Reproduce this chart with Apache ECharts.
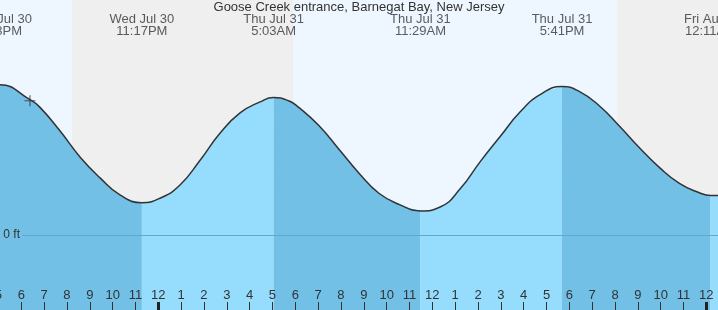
<!DOCTYPE html>
<html>
<head>
<meta charset="utf-8">
<script src="https://cdn.jsdelivr.net/npm/echarts@6/dist/echarts.min.js"></script>
<style>
  html, body { margin: 0; padding: 0; background: #fff; }
  #chart { width: 718px; height: 310px; }
</style>
</head>
<body>
<div id="chart"></div>
<script>
// hours counted from Wed Jul 30 00:00
var tideHours = [16.98, 17.05, 18.38, 18.82, 19.70, 20.57, 21.45, 22.32, 23.28, 24.07, 24.95, 25.83, 26.70, 27.58, 28.46, 29.05, 29.71, 30.15, 31.03, 31.91, 32.78, 33.66, 34.59, 35.48, 36.34, 37.22, 38.09, 38.97, 39.85, 40.72, 41.68, 42.43, 43.31, 44.19, 45.06, 45.94, 46.82, 47.69, 48.18, 48.51];
var tideFeet = [2.73, 2.73, 2.46, 2.32, 1.89, 1.42, 1.04, 0.73, 0.59, 0.67, 0.91, 1.36, 1.85, 2.22, 2.42, 2.50, 2.44, 2.32, 1.99, 1.56, 1.13, 0.76, 0.55, 0.44, 0.51, 0.84, 1.33, 1.79, 2.24, 2.55, 2.70, 2.61, 2.35, 1.98, 1.59, 1.23, 0.94, 0.77, 0.72, 0.72];

var extremeHours = [17.05, 23.28, 29.05, 35.48, 41.68, 48.18];
var extremeLabels = ['Wed Jul 30\n5:03PM', 'Wed Jul 30\n11:17PM', 'Thu Jul 31\n5:03AM', 'Thu Jul 31\n11:29AM', 'Thu Jul 31\n5:41PM', 'Fri Aug 1\n12:11AM'];

var nights = [[20.22, 29.90], [44.09, 48.51]];
var nowPoint = [18.38, 2.44];

var hourTicks = [];
for (var h = 17; h <= 48; h++) hourTicks.push(h);
var midnightTicks = [24, 48];

var xMin = 16.98, xMax = 48.51;
var font = 'Liberation Sans, Arial, sans-serif';

var tide = tideHours.map(function (t, i) { return [t, tideFeet[i]]; });

// split curve into falling / rising pieces between extremes
var bounds = [xMin].concat(extremeHours.slice(1)).concat([xMax]);
var fillSeries = [];
for (var s = 0; s < bounds.length - 1; s++) {
  var a = bounds[s], b = bounds[s + 1];
  fillSeries.push({
    type: 'line',
    data: tide.filter(function (p) { return p[0] >= a - 1e-6 && p[0] <= b + 1e-6; }),
    smooth: 0.5,
    showSymbol: false,
    silent: true,
    z: 2,
    lineStyle: { width: 0 },
    areaStyle: { color: s % 2 === 0 ? '#72c0e6' : '#96dcfc', opacity: 1, origin: 'start' }
  });
}

var chart = echarts.init(document.getElementById('chart'));
var option = {
  animation: false,
  title: {
    text: 'Goose Creek entrance, Barnegat Bay, New Jersey',
    left: 'center',
    top: 1,
    padding: 0,
    textStyle: { fontFamily: font, fontSize: 13, fontWeight: 'normal', color: '#333' }
  },
  grid: {
    left: -2, right: 0, top: 0, bottom: 0,
    containLabel: false, outerBoundsMode: 'none',
    show: true, backgroundColor: '#eef7ff', borderWidth: 0
  },
  xAxis: [
    {
      type: 'value', min: xMin, max: xMax, z: 10, position: 'bottom',
      axisLine: { show: false, onZero: false },
      splitLine: { show: false },
      axisTick: { show: true, inside: true, length: 8, customValues: hourTicks, lineStyle: { color: '#333', width: 1 } },
      axisLabel: {
        show: true, inside: true, margin: 8, customValues: hourTicks,
        fontFamily: font, fontSize: 13, color: '#333',
        formatter: function (v) { var k = Math.round(v) % 12; return String(k === 0 ? 12 : k); }
      }
    },
    {
      type: 'value', min: xMin, max: xMax, position: 'bottom', z: 11,
      axisLine: { show: false, onZero: false },
      splitLine: { show: false },
      axisLabel: { show: false },
      axisTick: { show: true, inside: true, length: 8, customValues: midnightTicks, lineStyle: { color: '#222', width: 3 } }
    }
  ],
  yAxis: { type: 'value', min: -1.36, max: 4.27, show: false },
  series: [
    {
      type: 'line', data: [], z: 1, silent: true,
      markArea: {
        silent: true,
        itemStyle: { color: '#efefef' },
        data: nights.map(function (n) { return [{ xAxis: n[0] }, { xAxis: n[1] }]; })
      }
    }
  ].concat(fillSeries).concat([
    {
      type: 'line',
      data: tide,
      smooth: 0.5,
      showSymbol: false,
      silent: true,
      z: 4,
      lineStyle: { color: '#333', width: 1.5 },
      markLine: {
        silent: true,
        symbol: 'none',
        lineStyle: { color: '#5ea9d4', width: 1, type: 'solid' },
        label: { show: true, position: 'start', distance: 2, formatter: '0 ft', fontFamily: font, fontSize: 12, color: '#333' },
        data: [[{ coord: [18.03, 0] }, { coord: [xMax, 0] }]]
      }
    },
    {
      type: 'scatter',
      data: [nowPoint],
      z: 5,
      silent: true,
      symbol: 'path://M4.5,0h1v10h-1z M0,4.5h10v1h-10z',
      symbolSize: 11,
      itemStyle: { color: '#333' }
    },
    {
      type: 'scatter',
      data: extremeHours.map(function (t) { return [t, 3.8]; }),
      z: 5,
      silent: true,
      symbolSize: 0,
      label: {
        show: true, position: 'inside',
        fontFamily: font, fontSize: 13, lineHeight: 12, color: '#333', align: 'center',
        formatter: function (p) { return extremeLabels[p.dataIndex]; }
      },
      labelLayout: { hideOverlap: false }
    }
  ])
};
chart.setOption(option);
</script>
</body>
</html>
